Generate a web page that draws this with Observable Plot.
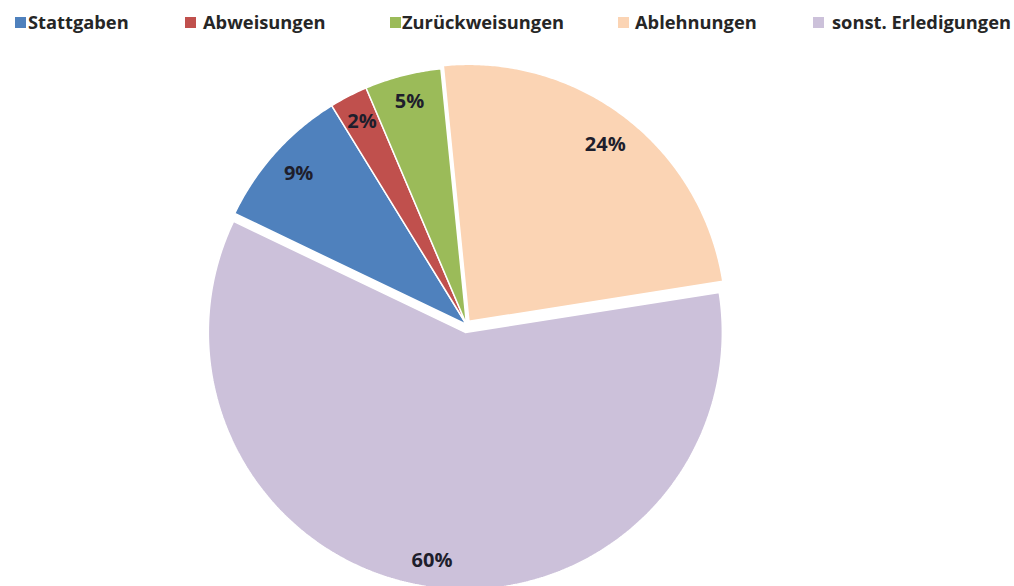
<!DOCTYPE html>
<html>
<head>
<meta charset="utf-8">
<script src="https://cdn.jsdelivr.net/npm/d3@7"></script>
<script src="https://cdn.jsdelivr.net/npm/@observablehq/plot@0.6"></script>
<style>
  html, body { margin: 0; padding: 0; background: #fff; }
  body { width: 1014px; height: 586px; overflow: hidden; font-family: "Open Sans", sans-serif; }
  #legend { position: relative; width: 1014px; height: 40px; }
  .sw { position: absolute; top: 17px; width: 11px; height: 11px; }
  .lt { position: absolute; top: 13px; height: 18px; font-size: 18.3px; line-height: 18px;
        font-weight: 700; color: #262626; white-space: nowrap; }
</style>
</head>
<body>
<div id="legend"></div>
<div id="chart"></div>
<script>
// ---- data ----
const categories = ["Stattgaben", "Abweisungen", "Zurückweisungen", "Ablehnungen", "sonst. Erledigungen"];
const values = [9.1, 2.4, 4.8, 24.1, 59.6];
const colors = ["#4F81BD", "#C0504D", "#9BBB59", "#FBD4B4", "#CCC1DA"];

// ---- layout / style settings ----
const W = 1014, H = 546;          // svg size
const cx = 466, cy = 284;         // pie centre inside svg (px)
const R = 257;                    // pie radius (px)
const startDeg = -64.4;           // first slice start, clockwise from 12 o'clock
const explodePx = {"Ablehnungen": 4, "sonst. Erledigungen": 8};
const labelFont = 20, labelPad = 13.5;
const swatchLeft = [15, 185, 390, 618, 813];
const textLeft = [28, 203, 402, 635, 832];

// ---- legend ----
const legend = document.getElementById("legend");
categories.forEach((c, i) => {
  const sw = document.createElement("div");
  sw.className = "sw";
  sw.style.left = swatchLeft[i] + "px";
  sw.style.background = colors[i];
  legend.appendChild(sw);
  const t = document.createElement("div");
  t.className = "lt";
  t.style.left = textLeft[i] + "px";
  t.textContent = c;
  legend.appendChild(t);
});

// ---- pie geometry (unit-radius coordinates) ----
const ctx = document.createElement("canvas").getContext("2d");
ctx.font = `700 ${labelFont}px "Open Sans"`;
const fmt = d3.format(".0%");

const data = categories.map((c, i) => ({category: c, value: values[i]}));
const start = startDeg * Math.PI / 180;
const arcs = d3.pie().value(d => d.value).sort(null).startAngle(start).endAngle(start + 2 * Math.PI)(data);

const polys = [];
const labels = [];
arcs.forEach(a => {
  const cat = a.data.category;
  const mid = (a.startAngle + a.endAngle) / 2;
  const e = (explodePx[cat] || 0) / R;
  const ox = e * Math.sin(mid), oy = e * Math.cos(mid);
  polys.push({category: cat, x: ox, y: oy});
  const n = Math.max(4, Math.ceil((a.endAngle - a.startAngle) / (Math.PI / 360)));
  for (let k = 0; k <= n; k++) {
    const t = a.startAngle + (a.endAngle - a.startAngle) * k / n;
    polys.push({category: cat, x: ox + Math.sin(t), y: oy + Math.cos(t)});
  }
  polys.push({category: cat, x: ox, y: oy});
  // label placed inside the outer edge (box-aware)
  const text = fmt(a.data.value / 100);
  const halfW = ctx.measureText(text).width / 2, halfH = labelFont / 2;
  const ext = Math.abs(Math.sin(mid)) * halfW + Math.abs(Math.cos(mid)) * halfH;
  const rho = (R - labelPad - ext) / R;
  labels.push({category: cat, x: ox + rho * Math.sin(mid), y: oy + rho * Math.cos(mid), text});
});

const chart = Plot.plot({
  width: W,
  height: H,
  margin: 0,
  style: {fontFamily: "Open Sans, sans-serif", background: "white", overflow: "visible"},
  x: {domain: [-cx / R, (W - cx) / R], axis: null},
  y: {domain: [-(H - cy) / R, cy / R], axis: null},
  color: {domain: categories, range: colors},
  marks: [
    Plot.line(polys, {x: "x", y: "y", z: "category", fill: "category", stroke: "white",
                      strokeWidth: 1.5, strokeLinejoin: "miter", curve: "linear"}),
    Plot.text(labels, {x: "x", y: "y", text: "text", fontSize: labelFont, fontWeight: 700,
                       fill: "#1e1e2c", textAnchor: "middle", lineAnchor: "middle"})
  ]
});
document.getElementById("chart").appendChild(chart);
</script>
</body>
</html>
